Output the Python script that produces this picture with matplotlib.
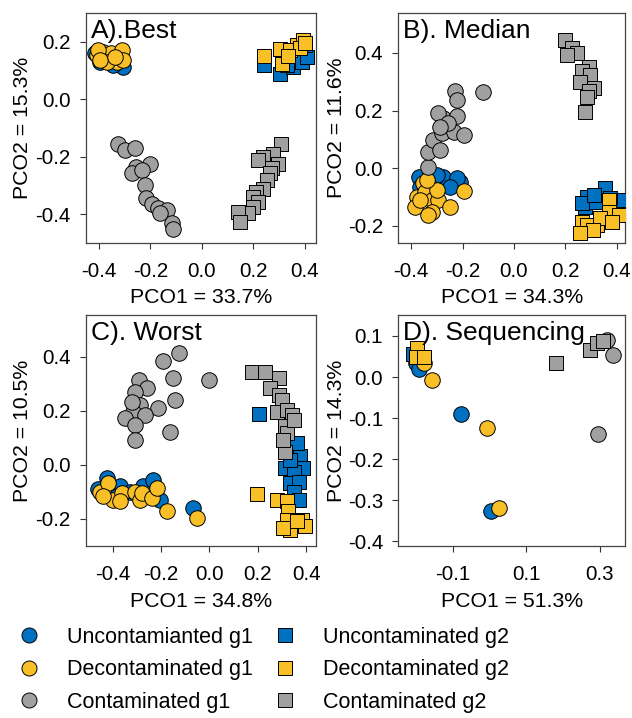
import matplotlib.pyplot as plt
from matplotlib.lines import Line2D

plt.rcParams["font.family"] = ["Liberation Sans", "DejaVu Sans"]
plt.rcParams["axes.unicode_minus"] = False

BLUE = "#0070c0"
YELLOW = "#f9bf27"
GREY = "#a0a0a0"

# A).Best
a_unc_g1 = [(-0.305, 0.112), (-0.396, 0.130), (-0.344, 0.118), (-0.383, 0.141), (-0.325, 0.153), (-0.416, 0.159)]
a_dec_g1 = [(-0.409, 0.153), (-0.383, 0.165), (-0.351, 0.159), (-0.312, 0.170), (-0.403, 0.170),
            (-0.331, 0.130), (-0.370, 0.130), (-0.305, 0.136), (-0.396, 0.136), (-0.338, 0.147)]
a_con_g1 = [(-0.325, -0.156), (-0.299, -0.177), (-0.260, -0.169), (-0.202, -0.226), (-0.254, -0.235),
            (-0.273, -0.258), (-0.234, -0.247), (-0.221, -0.299), (-0.215, -0.345), (-0.195, -0.363),
            (-0.170, -0.380), (-0.137, -0.386), (-0.117, -0.430), (-0.111, -0.453), (-0.163, -0.397)]
a_unc_g2 = [(0.241, 0.118), (0.303, 0.089), (0.353, 0.112), (0.387, 0.130), (0.407, 0.147),
            (0.400, 0.188), (0.329, 0.118)]
a_dec_g2 = [(0.241, 0.149), (0.310, 0.124), (0.303, 0.176), (0.368, 0.188), (0.392, 0.205),
            (0.342, 0.170), (0.381, 0.177), (0.400, 0.195), (0.335, 0.150)]
a_con_g2 = [(0.309, -0.156), (0.277, -0.191), (0.238, -0.200), (0.219, -0.212), (0.296, -0.224),
            (0.271, -0.241), (0.264, -0.258), (0.251, -0.282), (0.238, -0.311), (0.212, -0.322),
            (0.199, -0.340), (0.219, -0.357), (0.199, -0.374), (0.180, -0.397), (0.141, -0.392),
            (0.148, -0.426)]

# B). Median
b_unc_g1 = [(-0.371, -0.029), (-0.326, -0.017), (-0.274, -0.029), (-0.209, -0.046), (-0.222, -0.035),
            (-0.248, -0.064), (-0.300, -0.023), (-0.365, -0.064)]
b_dec_g1 = [(-0.378, -0.098), (-0.384, -0.133), (-0.352, -0.052), (-0.326, -0.064), (-0.346, -0.081),
            (-0.320, -0.110), (-0.294, -0.110), (-0.320, -0.151), (-0.333, -0.162), (-0.248, -0.133),
            (-0.196, -0.078), (-0.300, -0.075), (-0.365, -0.110), (-0.339, -0.041)]
b_con_g1 = [(-0.336, 0.006), (-0.333, 0.058), (-0.313, 0.098), (-0.287, 0.064), (-0.281, 0.122),
            (-0.274, 0.174), (-0.294, 0.191), (-0.235, 0.127), (-0.222, 0.180), (-0.196, 0.116),
            (-0.229, 0.267), (-0.222, 0.238), (-0.119, 0.263), (-0.255, 0.156), (-0.287, 0.145)]
b_unc_g2 = [(0.355, -0.070), (0.284, -0.099), (0.277, -0.133), (0.407, -0.110), (0.316, -0.116),
            (0.374, -0.104), (0.264, -0.122), (0.310, -0.093)]
b_dec_g2 = [(0.368, -0.110), (0.368, -0.151), (0.407, -0.162), (0.264, -0.186), (0.322, -0.197),
            (0.284, -0.197), (0.335, -0.174), (0.309, -0.215), (0.258, -0.226), (0.381, -0.185)]
b_con_g2 = [(0.199, 0.446), (0.225, 0.417), (0.245, 0.400), (0.206, 0.394), (0.290, 0.353),
            (0.264, 0.336), (0.297, 0.324), (0.258, 0.301), (0.310, 0.278), (0.290, 0.267),
            (0.284, 0.249), (0.277, 0.197)]

# C). Worst
c_unc_g1 = [(-0.459, -0.090), (-0.425, -0.049), (-0.370, -0.080), (-0.328, -0.099), (-0.273, -0.080),
            (-0.232, -0.055), (-0.204, -0.129), (-0.066, -0.160), (-0.383, -0.117)]
c_dec_g1 = [(-0.452, -0.102), (-0.418, -0.068), (-0.397, -0.129), (-0.363, -0.105), (-0.370, -0.135),
            (-0.308, -0.099), (-0.287, -0.129), (-0.280, -0.105), (-0.239, -0.123), (-0.218, -0.086),
            (-0.177, -0.172), (-0.052, -0.197), (-0.439, -0.117)]
c_con_g1 = [(-0.124, 0.413), (-0.193, 0.385), (-0.152, 0.320), (0.000, 0.312), (-0.290, 0.314),
            (-0.259, 0.283), (-0.308, 0.271), (-0.142, 0.240), (-0.211, 0.209), (-0.287, 0.222),
            (-0.314, 0.197), (-0.349, 0.172), (-0.266, 0.185), (-0.308, 0.148), (-0.163, 0.123),
            (-0.308, 0.092), (-0.321, 0.234)]
c_unc_g2 = [(0.207, 0.188), (0.348, 0.068), (0.375, 0.031), (0.388, -0.012), (0.313, -0.012),
            (0.348, -0.025), (0.334, -0.068), (0.370, -0.062), (0.348, -0.099), (0.370, -0.129),
            (0.334, 0.018), (0.361, 0.080)]
c_dec_g2 = [(0.196, -0.107), (0.279, -0.129), (0.320, -0.135), (0.327, -0.172), (0.320, -0.203),
            (0.382, -0.203), (0.396, -0.228), (0.334, -0.240), (0.306, -0.234), (0.361, -0.209)]
c_con_g2 = [(0.175, 0.345), (0.230, 0.345), (0.286, 0.320), (0.251, 0.283), (0.286, 0.259),
            (0.299, 0.240), (0.279, 0.197), (0.320, 0.203), (0.341, 0.185), (0.313, 0.142),
            (0.320, 0.117), (0.313, 0.049), (0.348, 0.166), (0.306, 0.092)]

# D). Sequencing
d_unc_g1 = [(-0.200, 0.033), (-0.190, 0.020), (-0.077, -0.091), (0.005, -0.326)]
d_dec_g1 = [(-0.177, 0.033), (-0.156, -0.007), (-0.006, -0.123), (0.027, -0.319)]
d_con_g1 = [(0.318, 0.090), (0.336, 0.053), (0.295, -0.139)]
d_unc_g2 = [(-0.207, 0.055)]
d_dec_g2 = [(-0.196, 0.070), (-0.199, 0.048), (-0.177, 0.049)]
d_con_g2 = [(0.180, 0.035), (0.273, 0.066), (0.291, 0.082), (0.309, 0.088)]

titles = ["A).Best", "B). Median", "C). Worst", "D). Sequencing"]
xlabels = ["PCO1 = 33.7%", "PCO1 = 34.3%", "PCO1 = 34.8%", "PCO1 = 51.3%"]
ylabels = ["PCO2 = 15.3%", "PCO2 = 11.6%", "PCO2 = 10.5%", "PCO2 = 14.3%"]
xticks = [[-0.4, -0.2, 0.0, 0.2, 0.4]] * 3 + [[-0.1, 0.1, 0.3]]
yticks = [[-0.4, -0.2, 0.0, 0.2], [-0.2, 0.0, 0.2, 0.4], [-0.2, 0.0, 0.2, 0.4],
          [-0.4, -0.3, -0.2, -0.1, 0.0, 0.1]]
xlims = [(-0.450, 0.443), (-0.449, 0.432), (-0.510, 0.441), (-0.247, 0.368)]
ylims = [(-0.50, 0.30), (-0.259, 0.539), (-0.300, 0.554), (-0.411, 0.151)]

groups = [
    (a_unc_g1, a_dec_g1, a_con_g1, a_unc_g2, a_dec_g2, a_con_g2),
    (b_unc_g1, b_dec_g1, b_con_g1, b_unc_g2, b_dec_g2, b_con_g2),
    (c_unc_g1, c_dec_g1, c_con_g1, c_unc_g2, c_dec_g2, c_con_g2),
    (d_unc_g1, d_dec_g1, d_con_g1, d_unc_g2, d_dec_g2, d_con_g2),
]
colors = [BLUE, YELLOW, GREY, BLUE, YELLOW, GREY]
markers = ["o", "o", "o", "s", "s", "s"]
sizes = [125, 125, 125, 106, 106, 106]
names = ["Uncontamianted g1", "Decontaminated g1", "Contaminated g1",
         "Uncontaminated g2", "Decontaminated g2", "Contaminated g2"]

fig = plt.figure(figsize=(6.32, 7.18), dpi=100)
boxes = [(0.136, 0.6616, 0.364, 0.3204), (0.6305, 0.6616, 0.3585, 0.3204),
         (0.136, 0.2396, 0.364, 0.3217), (0.6305, 0.2396, 0.3585, 0.3217)]

for i, box in enumerate(boxes):
    ax = fig.add_axes(box)
    for pts, col, mk, sz in zip(groups[i], colors, markers, sizes):
        xs = [p[0] for p in pts]
        ys = [p[1] for p in pts]
        ax.scatter(xs, ys, s=sz, c=col, marker=mk, edgecolors="black", linewidths=0.7, zorder=3)
    ax.set_xlim(xlims[i])
    ax.set_ylim(ylims[i])
    ax.set_xticks(xticks[i])
    ax.set_yticks(yticks[i])
    ax.xaxis.set_major_formatter(plt.FormatStrFormatter("%.1f"))
    ax.yaxis.set_major_formatter(plt.FormatStrFormatter("%.1f"))
    ax.tick_params(axis="both", direction="out", length=4, width=0.8, colors="#333333",
                   labelcolor="black", labelsize=14.8)
    ax.tick_params(axis="x", pad=10)
    ax.tick_params(axis="y", pad=7)
    for sp in ax.spines.values():
        sp.set_color("#444444")
        sp.set_linewidth(0.9)
    ax.text(0.02, 0.893, titles[i], transform=ax.transAxes, fontsize=19, va="baseline", ha="left", zorder=5)
    ax.set_xlabel(xlabels[i], fontsize=15.3)
    ax.set_ylabel(ylabels[i], fontsize=15.3)
    ax.xaxis.set_label_coords(0.5, -0.239)
    ax.yaxis.set_label_coords(-0.274, 0.5)
    ax.xaxis.label.set_va("center")
    ax.yaxis.label.set_va("center")

handles = [Line2D([], [], linestyle="none", marker=mk, markersize=(10.8 if mk == "o" else 9.6),
                  markerfacecolor=col, markeredgecolor="black", markeredgewidth=0.7)
           for col, mk in zip(colors, markers)]
fig.legend(handles, names, ncol=2, loc="upper left", bbox_to_anchor=(18.25 / 632, 1 - 627 / 718),
           frameon=False, fontsize=15.5, handlelength=1.0, handletextpad=1.27, columnspacing=1.0,
           labelspacing=0.53, borderpad=0, borderaxespad=0)

fig.savefig("out.png", dpi=100)
